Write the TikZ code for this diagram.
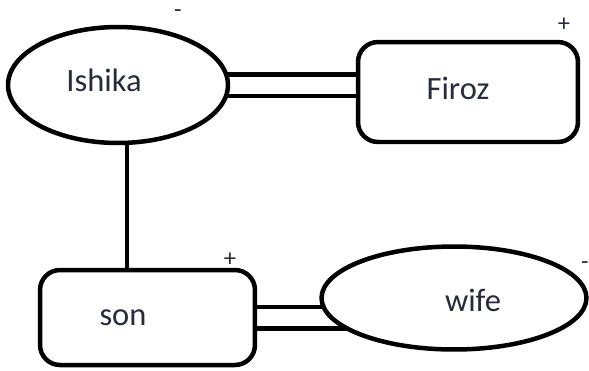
\documentclass[tikz,border=0pt]{standalone}
\usepackage{fontspec}
\setmainfont{Carlito}
\usetikzlibrary{shapes.geometric,backgrounds}
\definecolor{inkc}{RGB}{38,44,60}
\tikzset{
  ent/.style={draw,ellipse,line width=0.09cm,fill=white,inner sep=0pt},
  box/.style={draw,rectangle,rounded corners=0.4cm,line width=0.09cm,fill=white,inner sep=0pt},
  txt/.style={text=inkc,font=\fontsize{18.5}{20}\selectfont},
  sgn/.style={text=inkc,font=\fontsize{14}{15}\selectfont,inner sep=0pt,
    anchor=base,text height=0.6em,text depth=0pt},
  rel/.style={line width=0.09cm},
  dbl/.style={line width=0.09cm,double,double distance=0.34cm}
}
\begin{document}
\begin{tikzpicture}[x=0.02cm,y=-0.02cm]
      \useasboundingbox (0,0) rectangle (589,370);
      \node[ent,minimum width=4.4cm,minimum height=2.32cm] (ishika) at (118,85) {};
      \node[box,minimum width=4.4cm,minimum height=2cm] (firoz) at (468,92) {};
      \node[box,minimum width=4.3cm,minimum height=1.9cm] (son) at (147.5,317.5) {};
      \node[ent,minimum width=5.3cm,minimum height=2.06cm] (wife) at (454,298) {};
      \draw
        (104,80) node[txt] (ishikaT){Ishika}
        (458,88) node[txt] (firozT){Firoz}
        (123,318) node[txt] (sonT){son}
        (473,300) node[txt] (wifeT){wife};
      \draw
        (178,17) node[sgn] (s1){-}
        (564,31) node[sgn] (s2){+}
        (230,266) node[sgn] (s3){+}
        (585,269) node[sgn] (s4){-};
      \coordinate (drop) at (127,0);
      \begin{scope}[on background layer]
        \draw[dbl] (ishika.center) to (ishika.center -| firoz.center);
        \draw[dbl] (son.center) to (son.center -| wife.center);
        \draw[rel] (ishika.center -| drop) to (son.center -| drop);
      \end{scope}
    \end{tikzpicture}
\end{document}
